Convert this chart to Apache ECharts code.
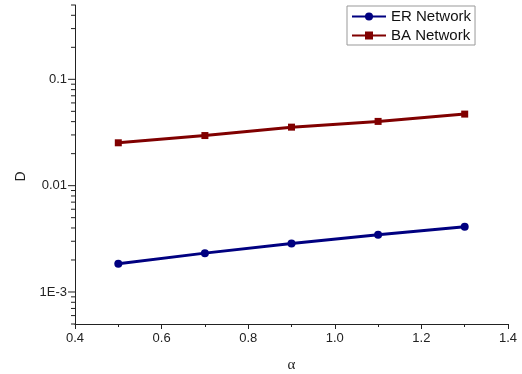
<!DOCTYPE html>
<html>
<head>
<meta charset="utf-8">
<script src="https://cdn.jsdelivr.net/npm/echarts@6/dist/echarts.min.js"></script>
<style>
  html, body { margin: 0; padding: 0; background: #fff; }
  #container { width: 522px; height: 374px; }
</style>
</head>
<body>
<div id="container"></div>
<script>
// data
var alphaValues = [0.5, 0.7, 0.9, 1.1, 1.3];
var erValues = [0.00184, 0.00232, 0.00286, 0.00345, 0.0041];
var baValues = [0.0253, 0.0296, 0.0355, 0.0402, 0.0471];

// y axis ticks (log scale)
var yMajorTicks = [0.001, 0.01, 0.1];
var yMinorTicks = [
    0.0005, 0.0006, 0.0007, 0.0008, 0.0009,
    0.002, 0.003, 0.004, 0.005, 0.006, 0.007, 0.008, 0.009,
    0.02, 0.03, 0.04, 0.05, 0.06, 0.07, 0.08, 0.09,
    0.2, 0.3, 0.4, 0.5
];

var xMin = 0.4, xMax = 1.4;
var axisColor = '#222';

function pairs(xs, ys) {
    return xs.map(function (x, i) { return [x, ys[i]]; });
}

// tick data: [x, value, length]
var tickData = [];
yMajorTicks.forEach(function (v) { tickData.push([xMin, v, 7]); });
yMinorTicks.forEach(function (v) { tickData.push([xMin, v, 4]); });

function yLabel(v) {
    if (Math.abs(v - 0.001) < 1e-9) return '1E-3';
    if (Math.abs(v - 0.01) < 1e-9) return '0.01';
    if (Math.abs(v - 0.1) < 1e-9) return '0.1';
    return '';
}

var option = {
    animation: false,
    grid: { left: 75, right: 14, top: 5, bottom: 50, outerBoundsMode: 'none', containLabel: false },
    legend: {
        orient: 'vertical',
        left: 347,
        top: 6,
        width: 127,
        padding: [3, 4, 2, 4],
        itemGap: 4,
        itemWidth: 34,
        itemHeight: 10,
        borderColor: '#999',
        borderWidth: 1,
        textStyle: { fontFamily: 'Liberation Sans, Arial', fontSize: 15, color: '#111' },
        data: ['ER Network', 'BA Network']
    },
    xAxis: {
        type: 'value',
        min: xMin,
        max: xMax,
        interval: 0.2,
        name: 'α',
        nameLocation: 'middle',
        nameGap: 34,
        nameTextStyle: { fontFamily: 'Liberation Serif, Times New Roman', fontSize: 15, color: '#222' },
        axisLine: { lineStyle: { color: axisColor, width: 1 } },
        axisTick: { length: 5, lineStyle: { color: axisColor } },
        minorTick: { show: true, splitNumber: 2, length: 3, lineStyle: { color: axisColor } },
        splitLine: { show: false },
        axisLabel: {
            margin: 8,
            color: '#222',
            fontFamily: 'Liberation Sans, Arial',
            fontSize: 13,
            formatter: function (v) { return v.toFixed(1); }
        }
    },
    yAxis: {
        type: 'log',
        logBase: 10,
        min: 0.0005,
        max: 0.5,
        name: 'D',
        nameLocation: 'middle',
        nameGap: 47,
        nameTextStyle: {
            fontFamily: 'Liberation Sans, Arial',
            fontSize: 14,
            color: '#222',
            padding: [0, 24, 0, 0]
        },
        axisLine: { show: true, lineStyle: { color: axisColor, width: 1 } },
        axisTick: { show: false },
        splitLine: { show: false },
        axisLabel: {
            margin: 8,
            color: '#222',
            fontFamily: 'Liberation Sans, Arial',
            fontSize: 13,
            showMinLabel: false,
            showMaxLabel: false,
            formatter: yLabel
        }
    },
    series: [
        {
            name: 'ER Network',
            type: 'line',
            data: pairs(alphaValues, erValues),
            symbol: 'circle',
            symbolSize: 8,
            color: '#000080',
            lineStyle: { width: 3, color: '#000080' },
            itemStyle: { color: '#000080' }
        },
        {
            name: 'BA Network',
            type: 'line',
            data: pairs(alphaValues, baValues),
            symbol: 'rect',
            symbolSize: 7,
            color: '#800000',
            lineStyle: { width: 3, color: '#800000' },
            itemStyle: { color: '#800000' }
        },
        {
            // y axis major and minor ticks at decades and 2..9
            name: 'yticks',
            type: 'custom',
            silent: true,
            clip: false,
            data: tickData,
            renderItem: function (params, api) {
                var p = api.coord([api.value(0), api.value(1)]);
                var len = api.value(2);
                return {
                    type: 'line',
                    shape: { x1: p[0] - len, y1: p[1], x2: p[0], y2: p[1] },
                    style: { stroke: axisColor, lineWidth: 1 }
                };
            }
        }
    ]
};

var myChart = echarts.init(document.getElementById('container'));
myChart.setOption(option);
</script>
</body>
</html>
